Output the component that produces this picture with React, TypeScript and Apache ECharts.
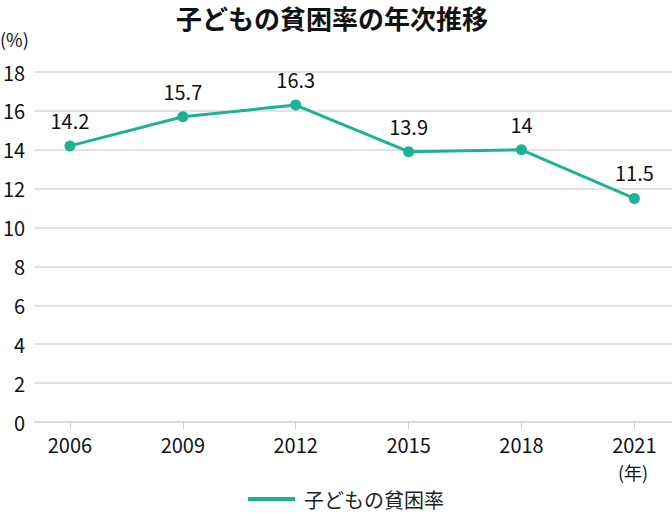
import React, { useEffect, useRef } from "react";
import * as echarts from "echarts";

const title = "子どもの貧困率の年次推移";
const seriesName = "子どもの貧困率";
const years = [2006, 2009, 2012, 2015, 2018, 2021];
const rates = [14.2, 15.7, 16.3, 13.9, 14, 11.5];
const yTicks = [0, 2, 4, 6, 8, 10, 12, 14, 16, 18];

const FONT = "'Noto Sans CJK JP', 'Noto Sans', sans-serif";
const GREEN = "#1bb394";

export default function App() {
  const ref = useRef<HTMLDivElement>(null);
  useEffect(() => {
    if (!ref.current) return;
    const chart = echarts.init(ref.current, undefined, { renderer: "svg" });
    chart.setOption({
      animation: false,
      textStyle: { fontFamily: FONT },
      title: {
        text: title,
        left: 176,
        top: 3,
        padding: 0,
        textStyle: { fontSize: 26, lineHeight: 28, fontWeight: "bold", color: "#111", fontFamily: FONT },
      },
      legend: {
        bottom: 2,
        left: 243,
        itemWidth: 47,
        itemHeight: 4,
        icon: "rect",
        itemGap: 10,
        textStyle: { fontSize: 20, color: "#222", fontFamily: FONT, padding: [0, 0, 0, 4] },
        data: [{ name: seriesName, icon: "rect" }],
      },
      grid: { left: 32, right: 0, top: 72, bottom: 94 },
      xAxis: {
        type: "value",
        min: 2005.05,
        max: 2022,
        splitLine: { show: false },
        axisLine: { show: true, lineStyle: { color: "#d9d9d9", width: 1.5 } },
        axisTick: {
          show: true,
          customValues: years,
          length: 7,
          lineStyle: { color: "#d0d0d0" },
        },
        axisLabel: {
          customValues: years,
          fontSize: 20,
          color: "#111",
          margin: 12,
          fontFamily: FONT,
          formatter: (v: number) => String(v),
        },
      },
      yAxis: {
        type: "value",
        min: 0,
        max: 18,
        interval: 2,
        axisLine: { show: false },
        axisTick: { show: false },
        splitLine: { lineStyle: { color: "#d9d9d9", width: 1.5 } },
        axisLabel: {
          fontSize: 20,
          color: "#111",
          margin: 9,
          fontFamily: FONT,
          customValues: yTicks,
        },
      },
      graphic: [
        {
          type: "text",
          left: 0,
          top: 30,
          style: { text: "(%)", fontSize: 18, fill: "#111", fontFamily: FONT },
        },
        {
          type: "text",
          left: 618,
          top: 463,
          style: { text: "(年)", fontSize: 18, fill: "#111", fontFamily: FONT },
        },
      ],
      series: [
        {
          name: seriesName,
          type: "line",
          data: years.map((y, i) => [y, rates[i]]),
          lineStyle: { color: GREEN, width: 3 },
          itemStyle: { color: GREEN },
          symbol: "circle",
          symbolSize: 11,
          label: {
            show: true,
            position: "top",
            distance: 10,
            fontSize: 20,
            color: "#111",
            fontFamily: FONT,
            formatter: (p: any) => String(p.value[1]),
          },
        },
      ],
    });
    return () => chart.dispose();
  }, []);
  return <div ref={ref} style={{ width: 672, height: 516, position: "absolute", left: 0, top: 0 }} />;
}
